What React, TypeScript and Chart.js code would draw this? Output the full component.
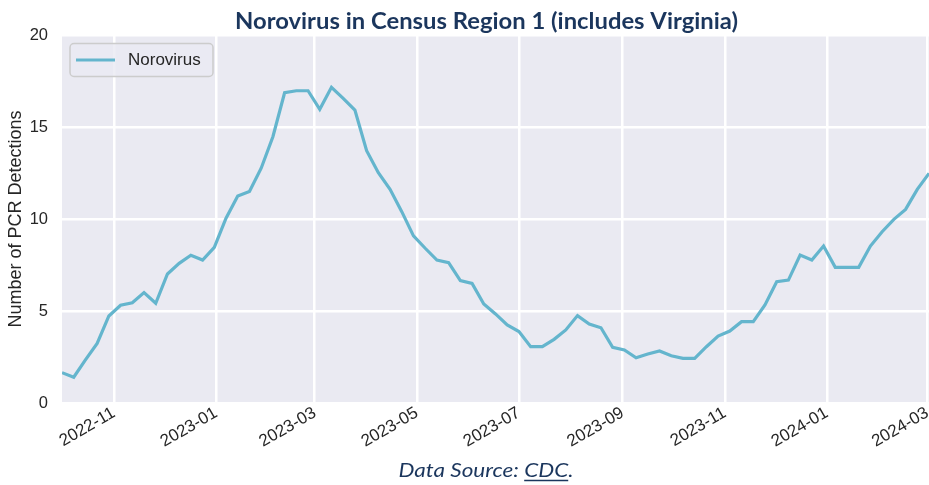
import React, { useEffect, useRef } from 'react';
import { Chart, registerables } from 'chart.js';

Chart.register(...registerables);

// ---- data ----
const startDate = '2022-10-01'; // first weekly observation
const weekStepDays = 7;
const norovirusValues = [
  1.65, 1.4, 2.34, 3.24, 4.73, 5.31, 5.45, 6.0, 5.42, 7.01, 7.59, 8.03, 7.77, 8.46, 10.04,
  11.25, 11.5, 12.76, 14.47, 16.86, 16.97, 16.97, 15.96, 17.16, 16.56, 15.92, 13.71, 12.52,
  11.61, 10.4, 9.08, 8.41, 7.77, 7.63, 6.65, 6.5, 5.38, 4.84, 4.24, 3.88, 3.06, 3.06, 3.46,
  3.97, 4.75, 4.29, 4.09, 3.03, 2.88, 2.46, 2.66, 2.83, 2.57, 2.43, 2.43, 3.06, 3.64, 3.91,
  4.42, 4.42, 5.33, 6.59, 6.68, 8.04, 7.77, 8.53, 7.37, 7.37, 7.37, 8.53, 9.31, 9.98, 10.52,
  11.61, 12.48,
];
const xTickLabels = [
  '2022-11', '2023-01', '2023-03', '2023-05', '2023-07', '2023-09', '2023-11', '2024-01', '2024-03',
];
const yTickValues = [0, 5, 10, 15, 20];
const seriesName = 'Norovirus';
const titleText = 'Norovirus in Census Region 1 (includes Virginia)';
const yAxisTitle = 'Number of PCR Detections';

// ---- helpers ----
const DAY = 86400000;
const startMs = Date.parse(startDate + 'T00:00:00Z');
const dayOffset = (iso: string) => Math.round((Date.parse(iso + 'T00:00:00Z') - startMs) / DAY);
const points = norovirusValues.map((v, i) => ({ x: i * weekStepDays, y: v }));
const xMax = (norovirusValues.length - 1) * weekStepDays;
const xTickDays = xTickLabels.map((l) => dayOffset(l + '-01'));

const LINE_COLOR = '#64B5CD';
const BG = '#EAEAF2';
const TEXT = '#262626';
const NAVY = '#1B365D';

function fitText(ctx: CanvasRenderingContext2D, text: string, cx: number, y: number, width: number) {
  const w = ctx.measureText(text).width;
  const s = width / w;
  ctx.save();
  ctx.translate(cx - width / 2, y);
  ctx.scale(s, 1);
  ctx.textAlign = 'left';
  ctx.fillText(text, 0, 0);
  ctx.restore();
  return s;
}

const decorPlugin = {
  id: 'decor',
  beforeDraw(chart: any) {
    const { ctx, chartArea } = chart;
    ctx.save();
    ctx.fillStyle = '#ffffff';
    ctx.fillRect(0, 0, chart.width, chart.height);
    ctx.fillStyle = BG;
    ctx.fillRect(chartArea.left, chartArea.top, chartArea.right - chartArea.left, chartArea.bottom - chartArea.top);
    ctx.restore();
  },
  afterDraw(chart: any) {
    const { ctx, chartArea } = chart;
    ctx.save();
    // title
    ctx.fillStyle = NAVY;
    ctx.font = 'bold 22px Lato';
    ctx.textBaseline = 'alphabetic';
    fitText(ctx, titleText, 486.5, 28.5, 503);

    // footer
    ctx.font = 'italic 19px Lato';
    ctx.textBaseline = 'alphabetic';
    const p1 = 'Data Source: ';
    const p2 = 'CDC';
    const p3 = '.';
    const full = p1 + p2 + p3;
    const targetW = 175;
    const s = targetW / ctx.measureText(full).width;
    const w1 = ctx.measureText(p1).width * s;
    const w2 = ctx.measureText(p2).width * s;
    const x0 = 486 - targetW / 2;
    const y = 476.5;
    ctx.save();
    ctx.translate(x0, y);
    ctx.scale(s, 1);
    ctx.textAlign = 'left';
    ctx.fillText(full, 0, 0);
    ctx.restore();
    ctx.strokeStyle = NAVY;
    ctx.lineWidth = 1.6;
    ctx.beginPath();
    ctx.moveTo(x0 + w1, y + 4);
    ctx.lineTo(x0 + w1 + w2, y + 4);
    ctx.stroke();

    // legend
    const lx = chartArea.left + 8;
    const ly = chartArea.top + 8.5;
    const lw = 143;
    const lh = 33;
    ctx.fillStyle = 'rgba(234,234,242,0.8)';
    ctx.strokeStyle = '#CCCCCC';
    ctx.lineWidth = 1.5;
    ctx.beginPath();
    (ctx as any).roundRect(lx, ly, lw, lh, 4);
    ctx.fill();
    ctx.stroke();
    ctx.strokeStyle = LINE_COLOR;
    ctx.lineWidth = 3;
    ctx.lineCap = 'butt';
    ctx.beginPath();
    ctx.moveTo(lx + 6, ly + lh / 2);
    ctx.lineTo(lx + 45, ly + lh / 2);
    ctx.stroke();
    ctx.fillStyle = TEXT;
    ctx.font = '17px "Liberation Sans"';
    ctx.textBaseline = 'middle';
    ctx.textAlign = 'left';
    ctx.fillText(seriesName, lx + 58, ly + lh / 2 + 0.5);
    ctx.restore();
  },
};

export default function App() {
  const ref = useRef<HTMLCanvasElement | null>(null);
  useEffect(() => {
    if (!ref.current) return;
    const chart = new Chart(ref.current, {
      type: 'line',
      data: {
        datasets: [
          {
            label: seriesName,
            data: points,
            borderColor: LINE_COLOR,
            backgroundColor: LINE_COLOR,
            borderWidth: 3.2,
            pointRadius: 0,
            tension: 0,
            fill: false,
          },
        ],
      },
      options: {
        animation: false,
        responsive: false,
        devicePixelRatio: 1,
        layout: { padding: { top: 35, right: 0, left: 0, bottom: 0 } },
        plugins: {
          legend: { display: false },
          title: { display: false },
          tooltip: { enabled: false },
        },
        scales: {
          x: {
            type: 'linear',
            min: 0,
            max: xMax,
            border: { display: false },
            grid: { color: '#ffffff', lineWidth: 2.5, drawTicks: false },
            afterBuildTicks: (scale: any) => {
              scale.ticks = xTickDays.map((v) => ({ value: v }));
            },
            afterFit: (scale: any) => {
              scale.height = 82;
              scale.paddingLeft = 0;
              scale.paddingRight = 0;
            },
            ticks: {
              autoSkip: false,
              maxRotation: 30,
              minRotation: 30,
              padding: 0,
              color: TEXT,
              font: { family: 'Liberation Sans', size: 17 },
              callback: (_v: any, i: number) => xTickLabels[i],
            },
          },
          y: {
            type: 'linear',
            min: 0,
            max: 20,
            border: { display: false },
            grid: { color: '#ffffff', lineWidth: 2.5, drawTicks: false },
            afterBuildTicks: (scale: any) => {
              scale.ticks = yTickValues.map((v) => ({ value: v }));
            },
            afterFit: (scale: any) => {
              scale.width = 62;
              scale.paddingTop = 0;
              scale.paddingBottom = 0;
            },
            ticks: {
              padding: 14,
              color: TEXT,
              font: { family: 'Liberation Sans', size: 16.5 },
            },
            title: {
              display: true,
              text: yAxisTitle,
              color: TEXT,
              font: { family: 'Liberation Sans', size: 18 },
              padding: { top: 5, bottom: 0 },
            },
          },
        },
      },
      plugins: [decorPlugin],
    } as any);
    return () => chart.destroy();
  }, []);
  return (
    <div style={{ position: 'absolute', left: 0, top: 0, width: 929, height: 485, background: '#fff' }}>
      <canvas ref={ref} width={929} height={485} style={{ display: 'block' }} />
    </div>
  );
}
